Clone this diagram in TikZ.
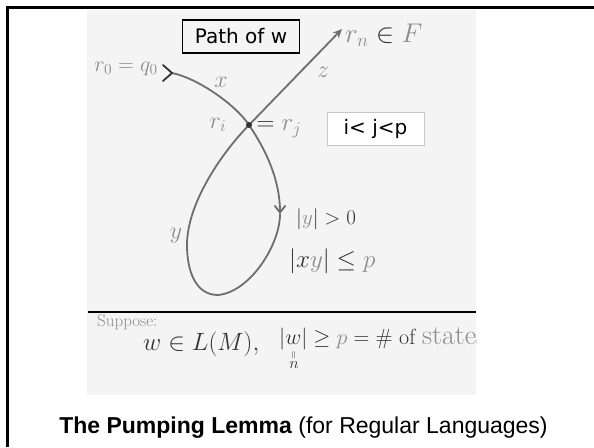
\RequirePackage{fix-cm}
\documentclass[tikz,border=0pt]{standalone}
\usepackage{amsmath,amssymb}
\usepackage{fontspec}
\usetikzlibrary{arrows.meta}
\newfontfamily\capfont{Liberation Sans}
\newfontfamily\boxfont{DejaVu Sans}
\definecolor{paper}{HTML}{F4F4F4}
\definecolor{pencil}{HTML}{6E6E6E}
\definecolor{lead}{HTML}{8C8C8C}
\definecolor{ink}{HTML}{333333}
\definecolor{rim}{HTML}{C8C8C8}

\begin{document}
\begin{tikzpicture}[x=1pt,y=-1pt,
  hand/.style={font=\fontsize{24}{26}\selectfont,text=lead,inner sep=0pt},
  curve/.style={pencil,line width=1.8pt,line cap=round},
  labelbox/.style={font=\boxfont\fontsize{20}{22}\selectfont,minimum height=33pt,inner sep=0pt}]
  \useasboundingbox (0,0) rectangle (594,447);

  % Slide frame
  \draw[line width=2.6pt] (7.5,447) -- (7.5,7.5) -- (594,7.5);

  % Scanned sheet
  \fill[paper] (87,9.5) rectangle (476,395);
  \draw[line width=2pt] (88,312) -- (476,312);

  % Path of w
  \coordinate (q0) at (172,73);
  \coordinate (cross) at (249,125);
  \coordinate (ytip) at (280,214);
  \coordinate (low) at (218,295);
  \coordinate (left) at (187,245);
  \coordinate (rn) at (342,29);

  \draw[curve] (q0) .. controls (197,78) and (235,104) .. (cross);
  \draw[curve,-{Straight Barb[length=7pt,width=11pt]}] (cross) .. controls (266,150) and (280,180) .. (ytip);
  \draw[curve] (ytip) .. controls (280,245) and (250,292) .. (low)
    .. controls (195,295) and (187,270) .. (left)
    .. controls (187,205) and (219,156) .. (cross);
  \draw[curve,-{Stealth[length=9pt,width=8pt]}] (cross) -- (rn);
  \draw[curve,ink] ([shift={(-9,-8)}]q0) -- (q0) -- ([shift={(-9,8)}]q0);
  \fill[ink] (cross) circle (3);

  % Labels on the path
  \node[labelbox,draw,line width=1.1pt,minimum width=117pt] (title) at (241,36.5) {Path of w};
  \node[labelbox,draw=rim,fill=white,line width=0.8pt,minimum width=97pt] (order) at (375.5,128.5) {i< j<p};
  \node[hand,font=\fontsize{22}{24}\selectfont] (start) at (126,69) {$r_0 = q_0$};
  \node[hand] (xlbl) at (221,82) {$x$};
  \node[hand] (zlbl) at (323,72) {$z$};
  \node[hand] (rilbl) at (218,125) {$r_i$};
  \node[hand,font=\fontsize{25}{27}\selectfont] (rjlbl) at (279,129) {$\textcolor{ink}{=}\; r_j$};
  \node[hand,anchor=west,font=\fontsize{27}{29}\selectfont] (final) at (345,35) {$r_n \mathrel{\textcolor{ink}{\in}} F$};
  \node[hand] (ylbl) at (176,236) {$y$};
  \node[hand,anchor=west,text=ink,font=\fontsize{21}{23}\selectfont] (cond1) at (296,219) {$|\textcolor{lead}{y}| > 0$};
  \node[hand,anchor=west,text=ink,font=\fontsize{25}{27}\selectfont] (cond2) at (289,261) {$|x\textcolor{lead}{y}| \le \textcolor{lead}{p}$};

  % Assumption
  \node[hand,anchor=west,font=\fontsize{17}{19}\selectfont] (suppose) at (97,322) {Suppose:};
  \node[hand,anchor=base west,text=ink,font=\fontsize{25}{27}\selectfont] (member) at (143,350) {$w \in L(M),$};
  \begin{scope}
    \clip (87,312) rectangle (476,395);
    \node[hand,anchor=base west,text=ink,font=\fontsize{22}{24}\selectfont] (length) at (279,344)
      {$|w| \ge \textcolor{lead}{p} = \#$ of {\fontsize{28}{30}\selectfont\textcolor{lead}{states}}};
  \end{scope}
  \node[hand,text=ink,rotate=90,font=\fontsize{11}{12}\selectfont] (eq) at (294,355) {$=$};
  \node[hand,text=ink,font=\fontsize{16}{18}\selectfont] (nlbl) at (294,365) {$n$};

  % Caption
  \node[font=\capfont\fontsize{23}{26}\selectfont,anchor=base] (caption) at (303.5,433)
    {\textbf{The Pumping Lemma} (for Regular Languages)};
\end{tikzpicture}
\end{document}
